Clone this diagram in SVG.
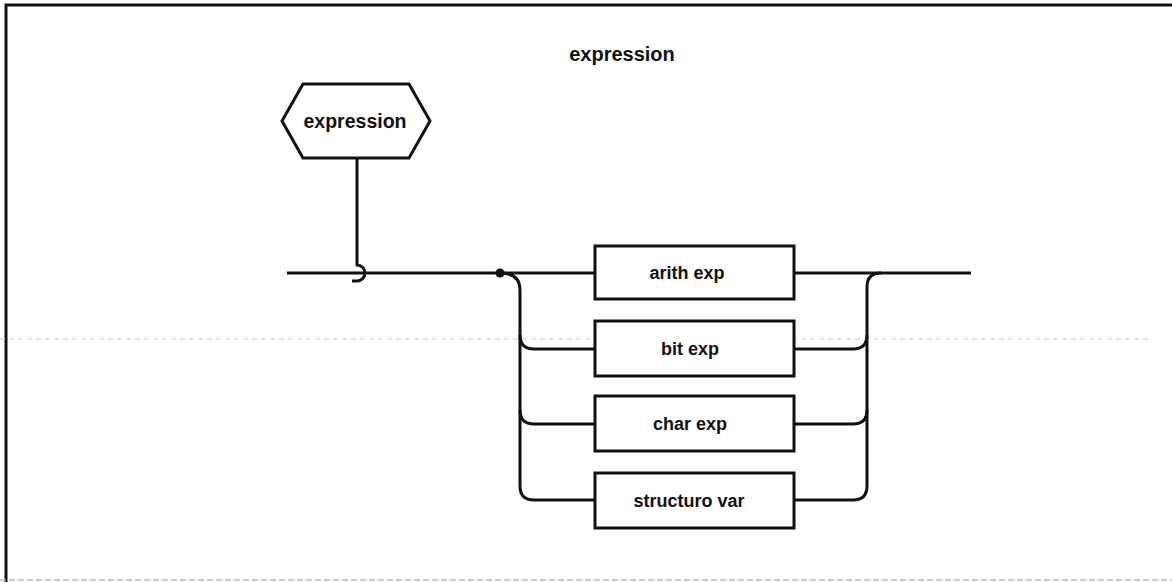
<svg xmlns="http://www.w3.org/2000/svg" width="1172" height="582" viewBox="0 0 1172 582">
<style>
.ln{fill:none;stroke:#111;stroke-width:3;stroke-linecap:butt;stroke-linejoin:round}
.bx{fill:#fff;stroke:#111;stroke-width:3}
.t{font-family:"Liberation Sans",Arial,sans-serif;font-weight:bold;font-size:18px;fill:#111;text-anchor:middle}
</style>
<rect width="1172" height="582" fill="#fff"/>
<g id="frame">
<path d="M6,582 V5 H1172" fill="none" stroke="#111" stroke-width="3"/>
<line x1="0" y1="580" x2="1172" y2="580" stroke="#bbb" stroke-width="1.5" stroke-dasharray="6 3"/>
<line x1="0" y1="339" x2="1150" y2="339" stroke="#ccc" stroke-width="1" stroke-dasharray="5 4"/>
</g>
<text id="title" class="t" x="622" y="61" style="font-size:20px">expression</text>
<g id="connectors">
<path class="ln" d="M357,158 V265 A8,8 0 0 1 357,281 L352,281"/>
<line class="ln" x1="287" y1="273" x2="595" y2="273"/>
<circle cx="500" cy="273" r="4.5" fill="#111"/>
<path class="ln" d="M500,273 Q520,273 520,290 V486 Q520,500 534,500 H595"/>
<path class="ln" d="M520,335 Q520,349 534,349 H595"/>
<path class="ln" d="M520,410 Q520,424 534,424 H595"/>
<line class="ln" x1="794" y1="273" x2="971" y2="273"/>
<path class="ln" d="M794,500 H853 Q867,500 867,486 V287 Q867,273 881,273"/>
<path class="ln" d="M794,349 H853 Q867,349 867,335"/>
<path class="ln" d="M794,424 H853 Q867,424 867,410"/>
</g>
<g id="node-expression">
<polygon class="bx" points="282,121 303,84 409,84 430,121 409,158 303,158"/>
<text class="t" x="355" y="128" style="font-size:19.5px">expression</text>
</g>
<g id="node-arith">
<rect class="bx" x="595" y="246" width="199" height="53"/>
<text class="t" x="687" y="279">arith exp</text>
</g>
<g id="node-bit">
<rect class="bx" x="595" y="321" width="199" height="55"/>
<text class="t" x="690" y="355">bit exp</text>
</g>
<g id="node-char">
<rect class="bx" x="595" y="396" width="199" height="55"/>
<text class="t" x="690" y="430">char exp</text>
</g>
<g id="node-struct">
<rect class="bx" x="595" y="473" width="199" height="55"/>
<text class="t" x="689" y="507">structuro var</text>
</g>
</svg>
